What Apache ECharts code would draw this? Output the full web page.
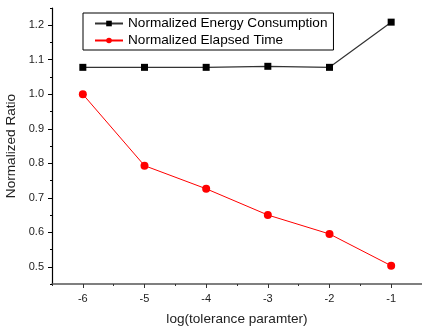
<!DOCTYPE html>
<html><head><meta charset="utf-8">
<script src="https://cdn.jsdelivr.net/npm/echarts@6/dist/echarts.min.js"></script>
<style>html,body{margin:0;padding:0;background:#fff}#c{width:422px;height:326px}</style>
</head><body><div id="c"></div>
<script>
const xValues = [-6, -5, -4, -3, -2, -1];
const energy = [1.078, 1.078, 1.078, 1.081, 1.078, 1.209];
const elapsed = [1.0, 0.793, 0.726, 0.650, 0.595, 0.503];
const xTicks = [-6, -5, -4, -3, -2, -1];
const yTicks = [0.5, 0.6, 0.7, 0.8, 0.9, 1.0, 1.1, 1.2];
const seriesNames = ['Normalized Energy Consumption', 'Normalized Elapsed Time'];

const font = 'Liberation Sans, Arial, sans-serif';
const chart = echarts.init(document.getElementById('c'), null, {renderer: 'canvas'});
chart.setOption({
  animation: false,
  backgroundColor: '#fff',
  grid: {left: 52, right: 0, top: 8, bottom: 42, containLabel: false, outerBoundsMode: 'none'},
  legend: {
    orient: 'vertical', left: 83, top: 13,
    width: 249,
    padding: [3, 6, 2, 11],
    itemGap: 2, itemWidth: 28, itemHeight: 7,
    borderColor: '#000', borderWidth: 1,
    textStyle: {fontFamily: font, fontSize: 13.6, color: '#000', lineHeight: 15},
    data: seriesNames
  },
  xAxis: [{
    type: 'value', min: -6.5, max: -0.5,
    name: 'log(tolerance paramter)', nameLocation: 'middle', nameGap: 28,
    nameMoveOverlap: false,
    nameTextStyle: {fontFamily: font, fontSize: 13.6, color: '#222'},
    axisLine: {lineStyle: {color: '#555', width: 1.5}},
    axisTick: {show: true, customValues: xTicks, length: 4, inside: false, lineStyle: {color: '#333'}},
    axisLabel: {customValues: xTicks, fontFamily: font, fontSize: 11, color: '#222', margin: 9},
    splitLine: {show: false}
  }, {
    type: 'value', min: -6.5, max: -0.5, interval: 0.5, position: 'bottom', offset: 0,
    axisLine: {show: false},
    axisTick: {show: true, length: 2, lineStyle: {color: '#333'}},
    axisLabel: {show: false}, splitLine: {show: false}
  }],
  yAxis: [{
    type: 'value', min: 0.45, max: 1.25,
    name: 'Normalized Ratio', nameLocation: 'middle', nameGap: 34, nameRotate: 90,
    nameMoveOverlap: false,
    nameTextStyle: {fontFamily: font, fontSize: 13.6, color: '#222'},
    axisLine: {show: true, lineStyle: {color: '#000', width: 1.2}},
    axisTick: {show: true, customValues: yTicks, length: 4, lineStyle: {color: '#000'}},
    axisLabel: {customValues: yTicks, fontFamily: font, fontSize: 11, color: '#222', margin: 8,
      formatter: v => v.toFixed(1)},
    splitLine: {show: false}
  }, {
    type: 'value', min: 0.45, max: 1.25, interval: 0.05, position: 'left', offset: 0,
    axisLine: {show: false},
    axisTick: {show: true, length: 2, lineStyle: {color: '#000'}},
    axisLabel: {show: false}, splitLine: {show: false}
  }],
  series: [{
    name: seriesNames[0], type: 'line',
    data: xValues.map((x, i) => [x, energy[i]]),
    symbol: 'rect', symbolSize: 7,
    lineStyle: {color: '#333', width: 1.2},
    itemStyle: {color: '#000'}
  }, {
    name: seriesNames[1], type: 'line',
    data: xValues.map((x, i) => [x, elapsed[i]]),
    symbol: 'circle', symbolSize: 8,
    lineStyle: {color: '#ff0000', width: 1},
    itemStyle: {color: '#ff0000'}
  }]
});
</script></body></html>
